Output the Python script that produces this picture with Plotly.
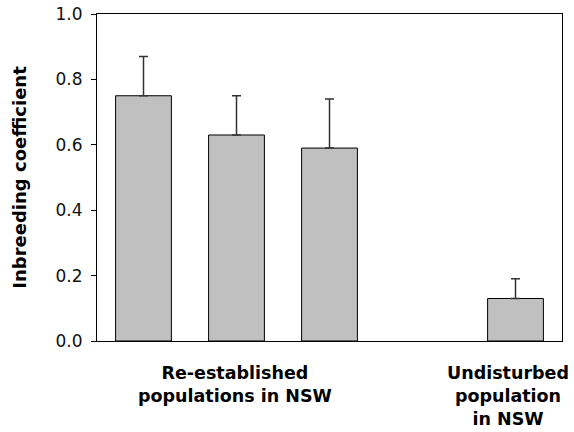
import plotly.graph_objects as go

# Data
populations = ["Re-established 1", "Re-established 2", "Re-established 3", "Undisturbed"]
inbreeding = [0.75, 0.63, 0.59, 0.13]
error_plus = [0.12, 0.12, 0.15, 0.06]
slot_order = ["Re-established 1", "Re-established 2", "Re-established 3", "gap", "Undisturbed"]
group_labels = ["Re-established<br>populations in NSW", "Undisturbed<br>population<br>in NSW"]
group_anchor = ["Re-established 2", "Undisturbed"]
y_ticks = [0.0, 0.2, 0.4, 0.6, 0.8, 1.0]

fig = go.Figure()
fig.add_trace(go.Bar(
    x=populations,
    y=inbreeding,
    width=0.6,
    marker=dict(color="#c0c0c0", line=dict(color="#000000", width=1)),
    error_y=dict(type="data", array=error_plus, arrayminus=[0] * len(error_plus),
                 symmetric=False, color="#333333", thickness=1.5, width=4.5),
))

for label, anchor in zip(group_labels, group_anchor):
    fig.add_annotation(
        x=anchor, xref="x", y=0, yref="paper",
        text="<b>" + label + "</b>", showarrow=False,
        yanchor="top", xanchor="center", yshift=-20,
        xshift=(-8 if anchor == "Undisturbed" else -2),
        font=dict(family="DejaVu Sans", size=17.5, color="#000000"),
    )

fig.update_layout(
    width=574, height=432,
    margin=dict(l=97, r=12, t=14, b=91, autoexpand=False),
    paper_bgcolor="white", plot_bgcolor="white",
    showlegend=False,
    font=dict(family="DejaVu Sans", color="#000000"),
)
fig.update_xaxes(
    type="category", categoryorder="array", categoryarray=slot_order,
    range=[-0.5, 4.5], showticklabels=False, ticks="",
    showline=True, linecolor="#000000", linewidth=1, mirror=True,
    showgrid=False, zeroline=False, automargin=False,
)
fig.update_yaxes(
    range=[0, 1.0], tickvals=y_ticks, tickformat=".1f",
    ticks="outside", ticklen=5, tickcolor="#000000", tickwidth=1,
    ticklabelstandoff=5,
    tickfont=dict(family="DejaVu Sans", size=17, color="#111111"),
    showline=True, linecolor="#000000", linewidth=1, mirror=True,
    showgrid=False, zeroline=False, automargin=False,
    title=dict(text="<b>Inbreeding coefficient</b>", standoff=24,
               font=dict(family="DejaVu Sans", size=18, color="#000000")),
)

fig.write_html(
    "out.html",
    config={"displayModeBar": False},
    post_script="document.body.style.margin='0';document.body.style.overflow='hidden';",
)
